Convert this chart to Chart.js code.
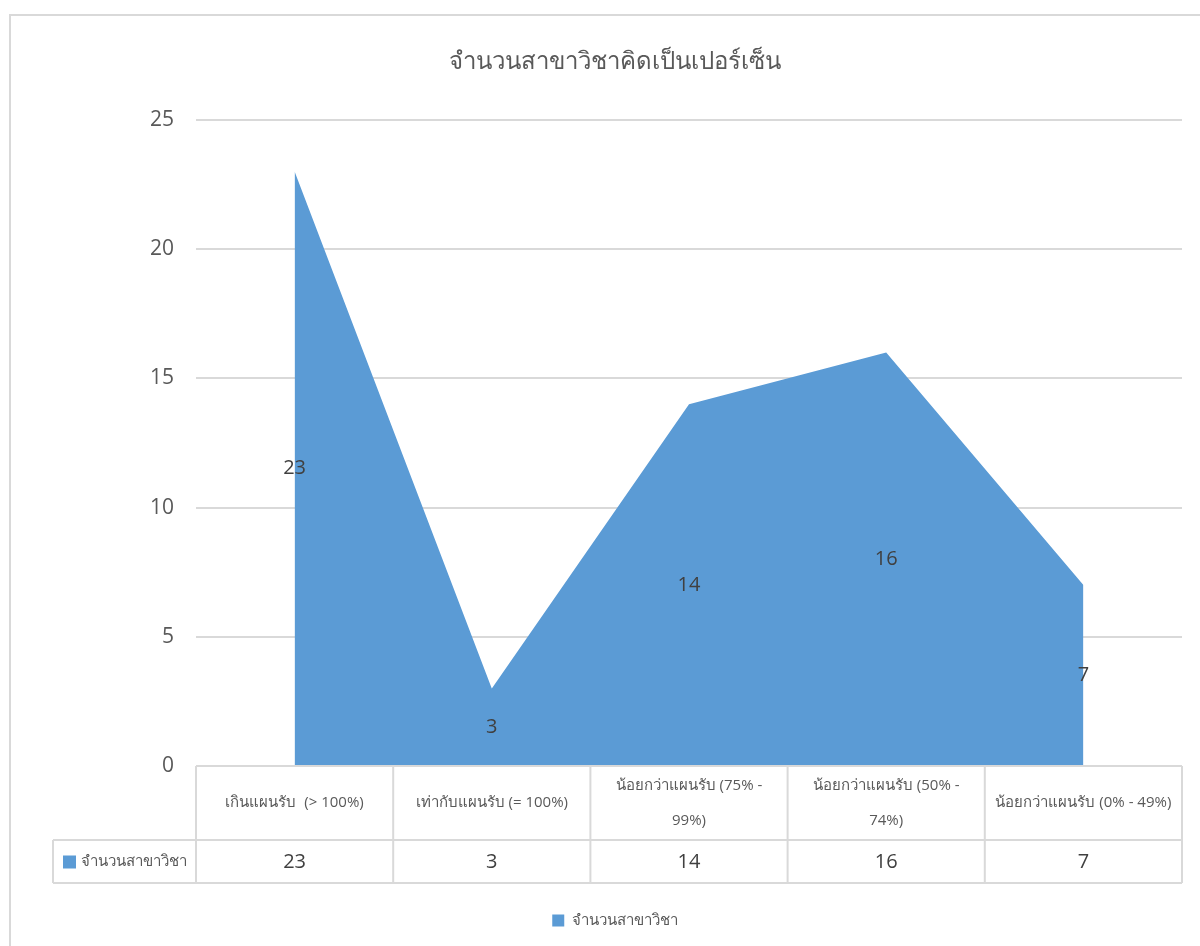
<!DOCTYPE html>
<html>
<head>
<meta charset="utf-8">
<script src="https://cdn.jsdelivr.net/npm/chart.js@4/dist/chart.umd.min.js"></script>
<style>
  html, body { margin: 0; padding: 0; background: #ffffff; }
  #wrap { width: 1200px; height: 946px; }
</style>
</head>
<body>
<div id="wrap"><canvas id="areaChart" width="1200" height="946"></canvas></div>
<script>
// chart data
const chartTitle = 'จำนวนสาขาวิชาคิดเป็นเปอร์เซ็น';
const seriesName = 'จำนวนสาขาวิชา';
const categories = [
  'เกินแผนรับ  (> 100%)',
  'เท่ากับแผนรับ (= 100%)',
  ['น้อยกว่าแผนรับ (75% -', '99%)'],
  ['น้อยกว่าแผนรับ (50% -', '74%)'],
  'น้อยกว่าแผนรับ (0% - 49%)',
];
const values = [23, 3, 14, 16, 7];
const yTicks = [0, 5, 10, 15, 20, 25];

const fillColor = '#5B9BD5';
const gridColor = '#D9D9D9';
const textColor = '#595959';
const darkText = '#404040';
const numFont = '"Open Sans", "Noto Sans", sans-serif';

// grey frame round the chart
const framePlugin = {
  id: 'frame',
  beforeDraw(chart) {
    const ctx = chart.ctx;
    ctx.save();
    ctx.fillStyle = '#ffffff';
    ctx.fillRect(0, 0, chart.width, chart.height);
    ctx.strokeStyle = gridColor;
    ctx.lineWidth = 2;
    ctx.strokeRect(10, 15, chart.width + 20, chart.height + 20);
    ctx.restore();
  }
};

// value labels in the middle of the area
const labelPlugin = {
  id: 'midLabels',
  afterDatasetsDraw(chart) {
    const ctx = chart.ctx;
    const x = chart.scales.x;
    const y = chart.scales.y;
    ctx.save();
    ctx.fillStyle = darkText;
    ctx.font = '20px ' + numFont;
    ctx.textAlign = 'center';
    ctx.textBaseline = 'middle';
    values.forEach((v, i) => {
      ctx.fillText(String(v), x.getPixelForValue(i), y.getPixelForValue(v / 2));
    });
    ctx.restore();
  }
};

// data table under the plot
const tablePlugin = {
  id: 'dataTable',
  afterDraw(chart) {
    const ctx = chart.ctx;
    const x = chart.scales.x;
    const area = chart.chartArea;
    const colW = (area.right - area.left) / categories.length;
    const top = area.bottom;
    const mid = top + 74;
    const bot = mid + 43;
    const keyLeft = 53;

    ctx.save();
    ctx.strokeStyle = gridColor;
    ctx.lineWidth = 2;
    ctx.beginPath();
    ctx.moveTo(area.left, top); ctx.lineTo(area.right, top);
    ctx.moveTo(keyLeft, mid); ctx.lineTo(area.right, mid);
    ctx.moveTo(keyLeft, bot); ctx.lineTo(area.right, bot);
    ctx.moveTo(keyLeft, mid); ctx.lineTo(keyLeft, bot);
    for (let i = 0; i <= categories.length; i++) {
      const cx = area.left + i * colW;
      ctx.moveTo(cx, top); ctx.lineTo(cx, bot);
    }
    ctx.stroke();

    // header text
    ctx.fillStyle = textColor;
    ctx.font = '15px ' + numFont;
    ctx.textAlign = 'center';
    ctx.textBaseline = 'middle';
    categories.forEach((c, i) => {
      const lines = Array.isArray(c) ? c : [c];
      const cx = x.getPixelForValue(i);
      const lh = 35;
      const y0 = (top + mid) / 2 - (lines.length - 1) * lh / 2;
      lines.forEach((ln, j) => ctx.fillText(ln, cx, y0 + j * lh));
    });

    // value row
    ctx.fillStyle = darkText;
    ctx.font = '20px ' + numFont;
    values.forEach((v, i) => {
      ctx.fillText(String(v), x.getPixelForValue(i), (mid + bot) / 2 + 1);
    });

    // legend key inside table
    ctx.fillStyle = fillColor;
    ctx.fillRect(keyLeft + 10, (mid + bot) / 2 - 6, 13, 13);
    ctx.fillStyle = textColor;
    ctx.font = '15px ' + numFont;
    ctx.textAlign = 'left';
    ctx.fillText(seriesName, keyLeft + 28, (mid + bot) / 2);
    ctx.restore();
  }
};

new Chart(document.getElementById('areaChart'), {
  type: 'line',
  data: {
    labels: categories,
    datasets: [{
      label: seriesName,
      data: values,
      fill: 'origin',
      backgroundColor: fillColor,
      borderColor: fillColor,
      borderWidth: 0,
      pointRadius: 0,
      tension: 0,
    }],
  },
  options: {
    responsive: false,
    animation: false,
    layout: { padding: { left: 48, right: 18, top: 0, bottom: 8 } },
    plugins: {
      title: {
        display: true,
        text: chartTitle,
        color: textColor,
        font: { family: numFont, size: 24, weight: 'normal' },
        padding: { top: 48, bottom: 43 },
      },
      legend: {
        display: true,
        position: 'bottom',
        labels: {
          color: textColor,
          boxWidth: 12,
          boxHeight: 12,
          font: { family: numFont, size: 15 },
          padding: 8,
        },
      },
      tooltip: { enabled: false },
    },
    scales: {
      x: {
        offset: true,
        grid: { display: false },
        border: { display: false },
        ticks: { display: false },
        afterFit(scale) { scale.height = 139; },
      },
      y: {
        min: 0,
        max: 25,
        afterBuildTicks(scale) { scale.ticks = yTicks.map(v => ({ value: v })); },
        grid: { color: gridColor, lineWidth: 2, drawTicks: false },
        border: { display: false },
        ticks: {
          color: textColor,
          font: { family: numFont, size: 21 },
          padding: 22,
        },
        afterFit(scale) { scale.width = 148; },
      },
    },
  },
  plugins: [framePlugin, labelPlugin, tablePlugin],
});
</script>
</body>
</html>
